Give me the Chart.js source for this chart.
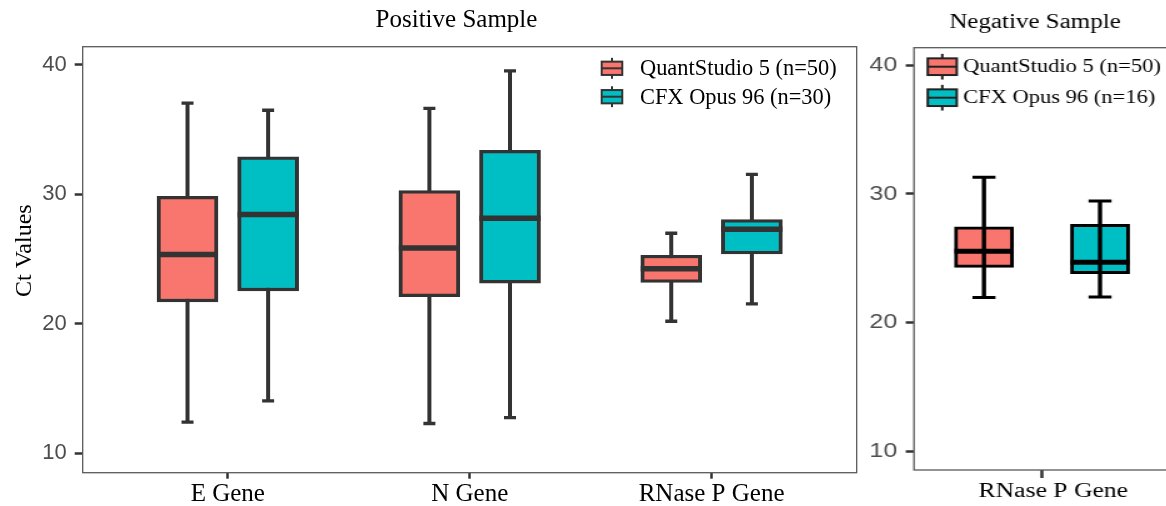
<!DOCTYPE html>
<html>
<head>
<meta charset="utf-8">
<script src="https://cdn.jsdelivr.net/npm/chart.js@4.4.1/dist/chart.umd.min.js"></script>
<style>
  html, body { margin: 0; padding: 0; background: #fff; overflow: hidden; width: 1166px; height: 506px; }
  #posWrap { position: absolute; left: 0; top: 0; width: 913px; height: 506px; }
  /* the negative-sample panel is drawn narrow and widened horizontally */
  #negWrap { position: absolute; left: 860px; top: 0; width: 280px; height: 506px; transform: scaleX(1.25); transform-origin: 0 0; }
</style>
</head>
<body>
<div id="posWrap"><canvas id="posChart"></canvas></div>
<div id="negWrap"><canvas id="negChart"></canvas></div>
<script>
// ---- data -------------------------------------------------------------
const posGenes = ['E Gene', 'N Gene', 'RNase P Gene'];
const negGenes = ['RNase P Gene'];
const instruments = ['QuantStudio 5', 'CFX Opus 96'];
const posCounts = [50, 30];
const negCounts = [50, 16];
const yTickValues = [10, 20, 30, 40];

// Positive sample – QuantStudio 5
const posQsMin    = [12.4, 12.3, 20.2];
const posQsQ1     = [21.7, 22.1, 23.2];
const posQsMedian = [25.35, 25.85, 24.25];
const posQsQ3     = [29.85, 30.3, 25.3];
const posQsMax    = [37.05, 36.65, 27.0];

// Positive sample – CFX Opus 96
const posCfxMin    = [14.05, 12.75, 21.55];
const posCfxQ1     = [22.55, 23.15, 25.4];
const posCfxMedian = [28.45, 28.15, 27.3];
const posCfxQ3     = [32.9, 33.4, 28.05];
const posCfxMax    = [36.5, 39.55, 31.55];

// Negative sample – QuantStudio 5
const negQsMin    = [21.95];
const negQsQ1     = [24.3];
const negQsMedian = [25.55];
const negQsQ3     = [27.45];
const negQsMax    = [31.3];

// Negative sample – CFX Opus 96
const negCfxMin    = [22.0];
const negCfxQ1     = [23.8];
const negCfxMedian = [24.7];
const negCfxQ3     = [27.65];
const negCfxMax    = [29.45];

const SALMON = '#F8766D';
const TEAL = '#00BFC4';
const SERIF = "'Liberation Serif', 'Times New Roman', serif";
const SANS = "'Liberation Sans', Arial, sans-serif";

// ---- boxplot pieces drawn around the floating bars ---------------------
function drawWhiskers(chart, o) {
  const ctx = chart.ctx, y = chart.scales.y;
  ctx.save();
  ctx.strokeStyle = o.color;
  chart.data.datasets.forEach((ds, di) => {
    const meta = chart.getDatasetMeta(di);
    meta.data.forEach((el, i) => {
      const d = ds.data[i];
      const yMin = y.getPixelForValue(d.min), yMax = y.getPixelForValue(d.max);
      ctx.lineWidth = o.whiskerWidth;
      ctx.beginPath();
      ctx.moveTo(el.x, yMin); ctx.lineTo(el.x, yMax);
      ctx.stroke();
      ctx.lineWidth = o.capWidth;
      ctx.beginPath();
      ctx.moveTo(el.x - o.capLength / 2, yMin); ctx.lineTo(el.x + o.capLength / 2, yMin);
      ctx.moveTo(el.x - o.capLength / 2, yMax); ctx.lineTo(el.x + o.capLength / 2, yMax);
      ctx.stroke();
    });
  });
  ctx.restore();
}

function drawMedians(chart, o) {
  const ctx = chart.ctx, y = chart.scales.y;
  ctx.save();
  ctx.strokeStyle = o.color;
  ctx.lineWidth = o.medianWidth;
  chart.data.datasets.forEach((ds, di) => {
    const meta = chart.getDatasetMeta(di);
    meta.data.forEach((el, i) => {
      const ym = y.getPixelForValue(ds.data[i].median);
      ctx.beginPath();
      ctx.moveTo(el.x - el.width / 2, ym); ctx.lineTo(el.x + el.width / 2, ym);
      ctx.stroke();
    });
  });
  ctx.restore();
}

const boxplotParts = {
  id: 'boxplotParts',
  beforeDatasetsDraw(chart, args, o) {
    const a = chart.chartArea, ctx = chart.ctx;
    ctx.save();
    ctx.strokeStyle = o.frameColor;
    ctx.lineWidth = o.frameWidth;
    ctx.strokeRect(a.left, a.top, a.right - a.left, a.bottom - a.top);
    ctx.restore();
    if (!o.whiskersOnTop) drawWhiskers(chart, o);
  },
  afterDatasetsDraw(chart, args, o) {
    if (o.whiskersOnTop) drawWhiskers(chart, o);
    drawMedians(chart, o);
  }
};

// rotated y-axis title, set a little above the panel's middle
const yAxisTitle = {
  id: 'yAxisTitle',
  afterDraw(chart, args, o) {
    if (!o.text) return;
    const ctx = chart.ctx, a = chart.chartArea;
    ctx.save();
    ctx.translate(o.x, (a.top + a.bottom) / 2 + o.shift);
    ctx.rotate(-Math.PI / 2);
    ctx.font = o.size + 'px ' + SERIF;
    ctx.fillStyle = '#000';
    ctx.textAlign = 'center';
    ctx.textBaseline = 'middle';
    ctx.fillText(o.text, 0, 0);
    ctx.restore();
  }
};

// legend with small boxplot keys, placed inside the panel
const boxLegend = {
  id: 'boxLegend',
  afterDraw(chart, args, o) {
    const ctx = chart.ctx, a = chart.chartArea;
    ctx.save();
    ctx.font = o.fontSize + 'px ' + SERIF;
    const labels = chart.data.datasets.map(ds => ds.label);
    const maxW = Math.max(...labels.map(t => ctx.measureText(t).width));
    let keyLeft;
    if (o.anchor === 'right') keyLeft = a.right - o.inset - maxW - o.textGap;
    else keyLeft = a.left + o.inset;
    chart.data.datasets.forEach((ds, i) => {
      const cy = a.top + o.rows[i];
      const kx = keyLeft, kw = o.keyW, kh = o.keyH;
      ctx.strokeStyle = o.lineColor;
      ctx.lineWidth = o.lineWidth;
      // whisker stubs
      ctx.beginPath();
      ctx.moveTo(kx + kw / 2, cy - kh / 2 - o.stub); ctx.lineTo(kx + kw / 2, cy + kh / 2 + o.stub);
      ctx.stroke();
      ctx.fillStyle = ds.backgroundColor;
      ctx.fillRect(kx, cy - kh / 2, kw, kh);
      ctx.strokeRect(kx, cy - kh / 2, kw, kh);
      ctx.beginPath();
      ctx.moveTo(kx, cy); ctx.lineTo(kx + kw, cy);
      ctx.stroke();
      ctx.fillStyle = '#000';
      ctx.textAlign = 'left';
      ctx.textBaseline = 'middle';
      ctx.fillText(ds.label, kx + o.textGap, cy + 1);
    });
    ctx.restore();
  }
};

function boxDataset(label, color, mins, q1s, meds, q3s, maxs, shift, style) {
  return {
    label: label,
    backgroundColor: color,
    borderColor: style.line,
    borderWidth: style.border,
    borderSkipped: false,
    barThickness: style.boxWidth,
    grouped: false,
    data: q1s.map((q1, i) => ({ x: i + 1 + shift, y: [q1, q3s[i]], min: mins[i], median: meds[i], max: maxs[i] }))
  };
}

function panelConfig(p) {
  return {
    type: 'bar',
    data: { datasets: p.datasets },
    plugins: [boxplotParts, boxLegend, yAxisTitle],
    options: {
      responsive: true,
      maintainAspectRatio: false,
      animation: false,
      events: [],
      layout: { padding: 0 },
      plugins: {
        legend: { display: false },
        tooltip: { enabled: false },
        title: {
          display: true, text: p.title, color: '#000', fullSize: true,
          font: { family: SERIF, size: p.titleSize, weight: 'normal' },
          padding: p.titlePad
        },
        boxplotParts: p.parts,
        boxLegend: p.legend,
        yAxisTitle: p.yTitle
      },
      scales: {
        x: {
          type: 'linear',
          offset: false,
          min: 0.4, max: p.genes.length + 0.6,
          afterBuildTicks: s => { s.ticks = p.genes.map((g, i) => ({ value: i + 1 })); },
          afterFit: s => { s.height = p.xAxisHeight; },
          ticks: {
            callback: (v, i) => p.genes[i],
            color: '#000', padding: p.xTickPad, maxRotation: 0, autoSkip: false,
            labelOffset: p.xLabelShift,
            font: { family: SERIF, size: p.xLabelSize }
          },
          grid: { display: true, offset: false, drawOnChartArea: false, drawTicks: true, tickLength: p.xTickLen, tickColor: '#333', tickWidth: 2.5 },
          border: { display: false }
        },
        y: {
          type: 'linear',
          min: p.yMin, max: p.yMax,
          afterBuildTicks: s => { s.ticks = yTickValues.map(v => ({ value: v })); },
          afterFit: s => { s.width = p.yAxisWidth; },
          ticks: {
            callback: v => String(v),
            color: '#4D4D4D', padding: p.yTickPad,
            font: { family: SANS, size: p.yLabelSize }
          },
          grid: { display: true, drawOnChartArea: false, drawTicks: true, tickLength: p.yTickLen, tickColor: '#333', tickWidth: 2.5 },
          border: { display: false }
        },
        // empty margin on the right side of the panel
        margin: {
          type: 'linear', position: 'right', display: true,
          afterFit: s => { s.width = p.rightMargin; },
          ticks: { display: false },
          grid: { display: false },
          border: { display: false }
        }
      }
    }
  };
}

// ---- positive sample panel ---------------------------------------------
const posStyle = { line: '#333333', border: { top: 3.3, bottom: 3.3, left: 4, right: 4 }, boxWidth: 61 };
new Chart(document.getElementById('posChart'), panelConfig({
  genes: posGenes,
  title: 'Positive Sample', titleSize: 25, titlePad: { top: 5.9, bottom: 10.8 },
  rightMargin: 56.3, yAxisWidth: 82.7, xAxisHeight: 33.3,
  yMin: 8.5, yMax: 41.41,
  yTitle: { text: 'Ct Values', x: 24.5, shift: -9, size: 24 },
  yLabelSize: 22, yTickPad: 8, yTickLen: 8,
  xLabelSize: 25, xTickPad: 1, xTickLen: 6, xLabelShift: 0,
  datasets: [
    boxDataset(instruments[0] + ' (n=' + posCounts[0] + ')', SALMON, posQsMin, posQsQ1, posQsMedian, posQsQ3, posQsMax, -1 / 6, posStyle),
    boxDataset(instruments[1] + ' (n=' + posCounts[1] + ')', TEAL, posCfxMin, posCfxQ1, posCfxMedian, posCfxQ3, posCfxMax, 1 / 6, posStyle)
  ],
  parts: { color: '#333333', whiskerWidth: 4, capWidth: 3.3, capLength: 12, medianWidth: 5.5, whiskersOnTop: false, frameColor: '#5a5a5a', frameWidth: 1.3 },
  legend: { anchor: 'right', inset: 20, textGap: 38.3, rows: [21.6, 50], keyW: 20.6, keyH: 13.3, stub: 3.8, fontSize: 22.4, lineColor: '#333', lineWidth: 2 }
}));

// ---- negative sample panel ---------------------------------------------
const negStyle = { line: '#000000', border: 3, boxWidth: 47.2 };
new Chart(document.getElementById('negChart'), panelConfig({
  genes: negGenes,
  title: 'Negative Sample', titleSize: 20, titlePad: { top: 10.5, bottom: 13.2 },
  rightMargin: 32, yAxisWidth: 43.2, xAxisHeight: 36,
  yMin: 8.55, yMax: 41.37,
  yTitle: { text: '' },
  yLabelSize: 20, yTickPad: 6.8, yTickLen: 6.6,
  xLabelSize: 20.5, xTickPad: 1.5, xTickLen: 8, xLabelShift: 9,
  datasets: [
    boxDataset(instruments[0] + ' (n=' + negCounts[0] + ')', SALMON, negQsMin, negQsQ1, negQsMedian, negQsQ3, negQsMax, -0.272, negStyle),
    boxDataset(instruments[1] + ' (n=' + negCounts[1] + ')', TEAL, negCfxMin, negCfxQ1, negCfxMedian, negCfxQ3, negCfxMax, 0.272, negStyle)
  ],
  parts: { color: '#000000', whiskerWidth: 3.4, capWidth: 3, capLength: 18.4, medianWidth: 5, whiskersOnTop: true, frameColor: '#5a5a5a', frameWidth: 1.3 },
  legend: { anchor: 'left', inset: 11, textGap: 28.4, rows: [19, 50], keyW: 23.2, keyH: 16.7, stub: 4.5, fontSize: 18, lineColor: '#222', lineWidth: 2 }
}));
</script>
</body>
</html>
